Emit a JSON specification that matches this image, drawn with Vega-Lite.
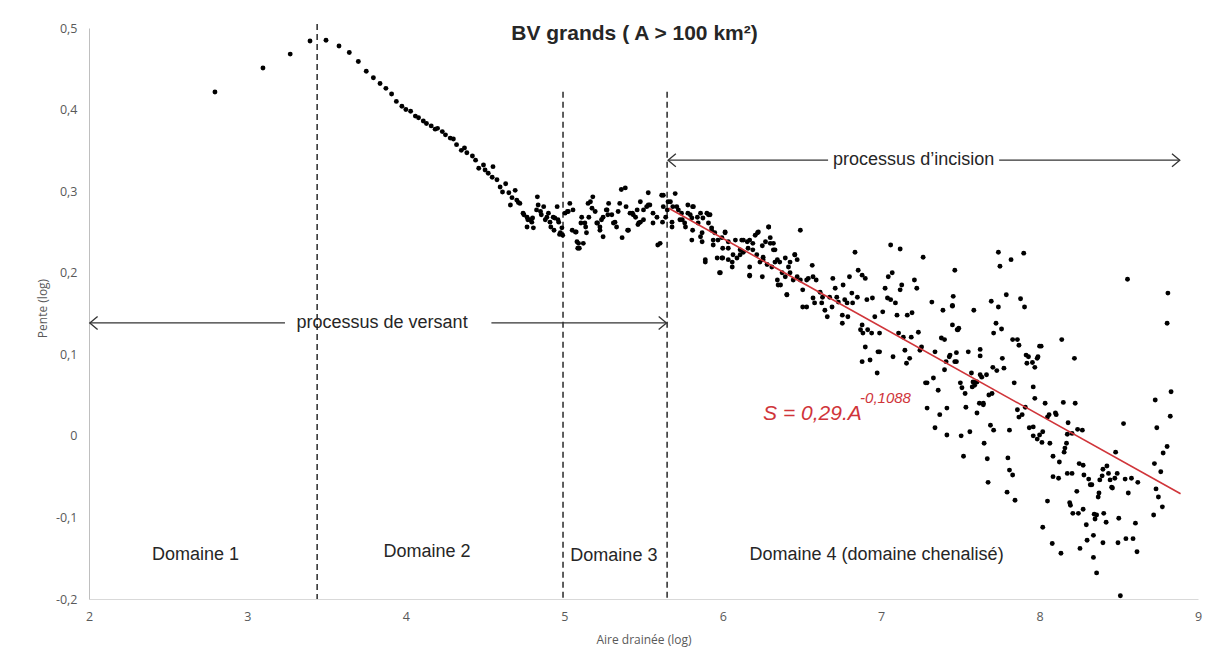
{
  "$schema": "https://vega.github.io/schema/vega-lite/v6.json",
  "autosize": {"type": "none"},
  "padding": {"left": 89, "top": 28, "right": 19, "bottom": 62},
  "width": 1109,
  "height": 571,
  "background": "white",
  "config": {"view": {"stroke": null}},
  "title": {"text": "BV grands ( A > 100 km²)", "font": "Liberation Sans", "fontSize": 21, "fontWeight": "bold", "color": "#262626", "anchor": "middle", "frame": "group", "offset": -22, "dx": -9},
  "datasets": {
    "pts": [
      {"a":2.795,"s":0.4215},{"a":3.098,"s":0.451},{"a":3.27,"s":0.468},{"a":3.395,"s":0.484},{"a":3.496,"s":0.485},{"a":3.578,"s":0.478},{"a":3.643,"s":0.470},{"a":3.70,"s":0.459},{"a":3.75,"s":0.447},{"a":3.795,"s":0.439},{"a":3.837,"s":0.432},{"a":3.874,"s":0.426},{"a":3.91,"s":0.419},{"a":3.94,"s":0.41},{"a":3.975,"s":0.404},{"a":4.0,"s":0.40},{"a":4.03,"s":0.398},{"a":4.06,"s":0.392},{"a":4.08,"s":0.39},{"a":4.11,"s":0.386},{"a":4.13,"s":0.383},{"a":4.16,"s":0.38},{"a":4.185,"s":0.376},{"a":4.20,"s":0.377},{"a":4.23,"s":0.373},{"a":4.25,"s":0.369},{"a":4.28,"s":0.365},{"a":4.30,"s":0.364},{"a":4.32,"s":0.357},{"a":4.35,"s":0.35},{"a":4.37,"s":0.353},{"a":4.385,"s":0.347},{"a":4.42,"s":0.343},{"a":4.44,"s":0.338},{"a":4.46,"s":0.328},{"a":4.49,"s":0.332},{"a":4.50,"s":0.326},{"a":4.52,"s":0.322},{"a":4.55,"s":0.33},{"a":4.545,"s":0.317},{"a":4.575,"s":0.314},{"a":4.595,"s":0.305},{"a":4.61,"s":0.299},{"a":4.63,"s":0.309},{"a":4.65,"s":0.298},{"a":4.67,"s":0.292},{"a":4.69,"s":0.301},{"a":4.70,"s":0.289},{"a":4.72,"s":0.285},{"a":4.74,"s":0.273},{"a":4.765,"s":0.268},{"a":4.785,"s":0.265},{"a":4.80,"s":0.267},{"a":4.83,"s":0.293},{"a":4.835,"s":0.283},{"a":4.85,"s":0.275},{"a":4.87,"s":0.281},{"a":4.89,"s":0.268},{"a":4.91,"s":0.262},{"a":4.93,"s":0.268},{"a":4.955,"s":0.281},{"a":4.96,"s":0.265},{"a":4.97,"s":0.247},{"a":4.985,"s":0.255},{"a":5.02,"s":0.275},{"a":5.035,"s":0.285},{"a":5.055,"s":0.277},{"a":5.07,"s":0.25},{"a":5.09,"s":0.236},{"a":5.095,"s":0.23},{"a":5.11,"s":0.268},{"a":5.13,"s":0.261},{"a":5.14,"s":0.249},{"a":5.15,"s":0.285},{"a":5.18,"s":0.293},{"a":5.195,"s":0.275},{"a":5.21,"s":0.261},{"a":5.225,"s":0.252},{"a":5.245,"s":0.268},{"a":5.27,"s":0.277},{"a":5.28,"s":0.285},{"a":5.30,"s":0.271},{"a":5.32,"s":0.262},{"a":5.34,"s":0.275},{"a":5.36,"s":0.302},{"a":5.385,"s":0.304},{"a":5.365,"s":0.243},{"a":5.39,"s":0.281},{"a":5.40,"s":0.252},{"a":5.43,"s":0.273},{"a":5.45,"s":0.268},{"a":5.47,"s":0.261},{"a":5.48,"s":0.287},{"a":5.50,"s":0.277},{"a":5.53,"s":0.298},{"a":5.54,"s":0.283},{"a":5.56,"s":0.273},{"a":5.585,"s":0.268},{"a":5.59,"s":0.234},{"a":5.615,"s":0.295},{"a":5.62,"s":0.262},{"a":5.67,"s":0.287},{"a":5.70,"s":0.297},
      {"a":4.66,"s":0.283},{"a":4.71,"s":0.286},{"a":4.745,"s":0.271},{"a":4.77,"s":0.265},{"a":4.795,"s":0.262},{"a":4.765,"s":0.256},{"a":4.805,"s":0.255},{"a":4.825,"s":0.277},{"a":4.855,"s":0.271},{"a":4.88,"s":0.265},{"a":4.90,"s":0.273},{"a":4.915,"s":0.256},{"a":4.935,"s":0.252},{"a":4.94,"s":0.267},{"a":4.965,"s":0.262},{"a":4.975,"s":0.249},{"a":4.99,"s":0.246},{"a":5.005,"s":0.273},{"a":5.025,"s":0.275},{"a":5.05,"s":0.252},{"a":5.075,"s":0.25},{"a":5.08,"s":0.238},{"a":5.085,"s":0.23},{"a":5.12,"s":0.236},{"a":5.105,"s":0.261},{"a":5.135,"s":0.256},{"a":5.155,"s":0.268},{"a":5.165,"s":0.287},{"a":5.175,"s":0.279},{"a":5.205,"s":0.261},{"a":5.225,"s":0.256},{"a":5.235,"s":0.265},{"a":5.245,"s":0.244},{"a":5.265,"s":0.277},{"a":5.275,"s":0.271},{"a":5.31,"s":0.261},{"a":5.33,"s":0.256},{"a":5.35,"s":0.285},{"a":5.405,"s":0.252},{"a":5.415,"s":0.273},{"a":5.435,"s":0.271},{"a":5.46,"s":0.277},{"a":5.465,"s":0.259},{"a":5.48,"s":0.262},{"a":5.50,"s":0.265},{"a":5.52,"s":0.281},{"a":5.53,"s":0.283},{"a":5.56,"s":0.261},{"a":5.605,"s":0.236},{"a":5.625,"s":0.281},{"a":5.65,"s":0.277},{"a":5.68,"s":0.256},{"a":5.71,"s":0.281},{"a":5.745,"s":0.265},{"a":5.765,"s":0.256},{"a":5.78,"s":0.273},{"a":5.805,"s":0.267},{"a":5.815,"s":0.281},{"a":5.845,"s":0.261},{"a":5.87,"s":0.249},{"a":5.89,"s":0.213},{"a":5.91,"s":0.271},{"a":5.93,"s":0.252},{"a":5.94,"s":0.24},{"a":5.985,"s":0.2},{"a":5.995,"s":0.218},{"a":6.015,"s":0.25},{"a":6.035,"s":0.23},{"a":6.06,"s":0.213},{"a":6.08,"s":0.24},{"a":6.11,"s":0.228},{"a":6.13,"s":0.24},{"a":6.17,"s":0.197},{"a":6.19,"s":0.236},{"a":6.22,"s":0.249},{"a":6.25,"s":0.195},{"a":6.255,"s":0.216},{"a":6.29,"s":0.256},{"a":6.30,"s":0.236},{"a":6.32,"s":0.228},{"a":6.33,"s":0.213},{"a":6.365,"s":0.185},{"a":6.405,"s":0.173},{"a":6.425,"s":0.213},{"a":6.455,"s":0.222},
      {"a":5.625,"s":0.295},{"a":5.655,"s":0.287},{"a":5.685,"s":0.281},{"a":5.72,"s":0.277},{"a":5.74,"s":0.273},{"a":5.64,"s":0.268},{"a":5.68,"s":0.262},{"a":5.73,"s":0.265},{"a":5.76,"s":0.261},{"a":5.78,"s":0.283},{"a":5.81,"s":0.281},{"a":5.795,"s":0.271},{"a":5.84,"s":0.268},{"a":5.86,"s":0.273},{"a":5.875,"s":0.267},{"a":5.90,"s":0.273},{"a":5.92,"s":0.271},{"a":5.91,"s":0.261},{"a":5.81,"s":0.252},{"a":5.805,"s":0.24},{"a":5.86,"s":0.244},{"a":5.87,"s":0.238},{"a":5.93,"s":0.255},{"a":5.95,"s":0.249},{"a":5.97,"s":0.24},{"a":5.94,"s":0.234},{"a":5.995,"s":0.243},{"a":6.015,"s":0.249},{"a":6.035,"s":0.238},{"a":6.00,"s":0.23},{"a":5.89,"s":0.216},{"a":5.965,"s":0.218},{"a":6.00,"s":0.218},{"a":5.98,"s":0.2},{"a":6.035,"s":0.216},{"a":6.065,"s":0.222},{"a":6.09,"s":0.218},{"a":6.06,"s":0.207},{"a":6.11,"s":0.222},{"a":6.12,"s":0.24},{"a":6.155,"s":0.238},{"a":6.17,"s":0.24},{"a":6.205,"s":0.246},{"a":6.225,"s":0.25},{"a":6.16,"s":0.23},{"a":6.19,"s":0.228},{"a":6.215,"s":0.222},{"a":6.13,"s":0.225},{"a":6.17,"s":0.207},{"a":6.17,"s":0.196},{"a":6.235,"s":0.213},{"a":6.255,"s":0.219},{"a":6.25,"s":0.233},{"a":6.27,"s":0.238},{"a":6.29,"s":0.256},{"a":6.30,"s":0.243},{"a":6.32,"s":0.236},{"a":6.28,"s":0.21},{"a":6.31,"s":0.207},{"a":6.33,"s":0.228},{"a":6.345,"s":0.216},{"a":6.36,"s":0.213},{"a":6.375,"s":0.2},{"a":6.395,"s":0.218},{"a":6.415,"s":0.207},{"a":6.455,"s":0.222},{"a":6.47,"s":0.216},{"a":6.395,"s":0.195},{"a":6.425,"s":0.2},{"a":6.445,"s":0.191},{"a":6.47,"s":0.195},{"a":6.49,"s":0.252},{"a":6.345,"s":0.191},{"a":6.35,"s":0.185},{"a":6.405,"s":0.173},{"a":6.49,"s":0.191},{"a":6.505,"s":0.179},{"a":6.53,"s":0.191},{"a":6.54,"s":0.193},{"a":6.565,"s":0.209},{"a":6.57,"s":0.195},{"a":6.59,"s":0.191},{"a":6.505,"s":0.158},{"a":6.53,"s":0.158},{"a":6.57,"s":0.169},{"a":6.58,"s":0.163},{"a":6.615,"s":0.176},{"a":6.63,"s":0.17},{"a":6.625,"s":0.163},{"a":6.645,"s":0.154},{"a":6.66,"s":0.146},{"a":6.675,"s":0.17},{"a":6.695,"s":0.193},{"a":6.71,"s":0.181},{"a":6.69,"s":0.158},{"a":6.72,"s":0.17},{"a":6.73,"s":0.164},{"a":6.755,"s":0.148},{"a":6.755,"s":0.138},{"a":6.76,"s":0.185},{"a":6.77,"s":0.167},{"a":6.785,"s":0.163},{"a":6.79,"s":0.146},{"a":6.80,"s":0.195},{"a":6.815,"s":0.175},{"a":6.82,"s":0.163},{"a":6.835,"s":0.225},{"a":6.85,"s":0.17},{"a":6.855,"s":0.203},{"a":6.88,"s":0.197},{"a":6.88,"s":0.136},{"a":6.87,"s":0.13},{"a":6.885,"s":0.126},{"a":6.90,"s":0.193},{"a":6.91,"s":0.167},{"a":6.90,"s":0.109},{"a":6.88,"s":0.091},{"a":6.915,"s":0.13},{"a":6.93,"s":0.093},{"a":6.94,"s":0.126},{"a":6.945,"s":0.169},{"a":6.96,"s":0.146},{"a":6.975,"s":0.077},{"a":6.98,"s":0.103},{"a":6.99,"s":0.103},{"a":6.99,"s":0.126},{"a":7.01,"s":0.152},{"a":7.025,"s":0.181},{"a":7.04,"s":0.169},{"a":7.045,"s":0.195},{"a":7.06,"s":0.234},{"a":7.06,"s":0.167},{"a":7.07,"s":0.2},{"a":7.075,"s":0.097},{"a":7.09,"s":0.163},{"a":7.10,"s":0.148},{"a":7.12,"s":0.229},{"a":7.11,"s":0.126},{"a":7.12,"s":0.179},{"a":7.13,"s":0.185},{"a":7.14,"s":0.121},{"a":7.15,"s":0.105},{"a":7.16,"s":0.089},{"a":7.165,"s":0.148},{"a":7.18,"s":0.095},{"a":7.19,"s":0.121},{"a":7.195,"s":0.151},{"a":7.21,"s":0.191},{"a":7.225,"s":0.181},{"a":7.235,"s":0.127},{"a":7.245,"s":0.105},{"a":7.255,"s":0.109},{"a":7.265,"s":0.219},{"a":7.28,"s":0.065},{"a":7.29,"s":0.065},{"a":7.29,"s":0.034},{"a":7.32,"s":0.164},{"a":7.33,"s":0.071},{"a":7.34,"s":0.103},{"a":7.34,"s":0.01},{"a":7.36,"s":0.056},{"a":7.37,"s":0.026},{"a":7.38,"s":0.12},{"a":7.39,"s":0.154},{"a":7.40,"s":0.081},{"a":7.415,"s":0.001},{"a":7.415,"s":0.034},{"a":7.435,"s":0.099},{"a":7.45,"s":0.16},{"a":7.455,"s":0.171},{"a":7.465,"s":0.203},{"a":7.475,"s":0.091},{"a":7.485,"s":0.13},
      {"a":7.74,"s":0.225},{"a":7.75,"s":0.208},{"a":7.82,"s":0.216},{"a":7.90,"s":0.224},{"a":7.45,"s":0.159},{"a":7.40,"s":0.118},{"a":7.585,"s":0.154},{"a":7.695,"s":0.165},{"a":7.74,"s":0.158},{"a":7.79,"s":0.173},{"a":7.88,"s":0.168},{"a":7.905,"s":0.158},{"a":7.45,"s":0.136},{"a":7.49,"s":0.132},{"a":7.48,"s":0.13},{"a":7.725,"s":0.138},{"a":7.76,"s":0.131},{"a":7.71,"s":0.126},{"a":7.83,"s":0.118},{"a":7.86,"s":0.118},{"a":7.87,"s":0.111},{"a":8.00,"s":0.11},{"a":8.14,"s":0.118},{"a":7.43,"s":0.097},{"a":7.475,"s":0.102},{"a":7.41,"s":0.091},{"a":7.465,"s":0.091},{"a":7.55,"s":0.103},{"a":7.625,"s":0.106},{"a":7.625,"s":0.098},{"a":7.705,"s":0.084},{"a":7.73,"s":0.08},{"a":7.775,"s":0.083},{"a":7.765,"s":0.095},{"a":7.915,"s":0.099},{"a":7.93,"s":0.097},{"a":7.92,"s":0.089},{"a":7.985,"s":0.095},{"a":7.97,"s":0.084},{"a":7.955,"s":0.09},{"a":8.01,"s":0.11},{"a":8.22,"s":0.095},{"a":7.57,"s":0.077},{"a":7.50,"s":0.065},{"a":7.51,"s":0.059},{"a":7.53,"s":0.052},{"a":7.575,"s":0.06},{"a":7.58,"s":0.066},{"a":7.59,"s":0.062},{"a":7.605,"s":0.066},{"a":7.625,"s":0.075},{"a":7.635,"s":0.072},{"a":7.645,"s":0.04},{"a":7.665,"s":0.075},{"a":7.68,"s":0.05},{"a":7.70,"s":0.052},{"a":7.535,"s":0.035},{"a":7.605,"s":0.028},{"a":7.62,"s":0.04},{"a":7.645,"s":0.038},{"a":7.56,"s":0.005},{"a":7.505,"s":0.0},{"a":7.52,"s":-0.025},{"a":7.65,"s":-0.009},{"a":7.69,"s":0.013},{"a":7.71,"s":0.007},{"a":7.67,"s":-0.028},{"a":7.675,"s":-0.057},{"a":7.80,"s":-0.027},{"a":7.81,"s":-0.042},{"a":7.83,"s":-0.048},{"a":7.795,"s":-0.069},{"a":7.845,"s":-0.079},{"a":7.81,"s":0.007},{"a":7.84,"s":0.065},{"a":7.86,"s":0.032},{"a":7.87,"s":0.023},{"a":7.89,"s":0.026},{"a":7.91,"s":0.035},{"a":7.935,"s":0.01},{"a":7.96,"s":0.011},{"a":7.96,"s":0.0},{"a":7.985,"s":-0.004},{"a":8.00,"s":0.001},{"a":8.015,"s":-0.008},{"a":8.02,"s":0.005},{"a":7.97,"s":0.046},{"a":7.96,"s":0.06},{"a":7.99,"s":0.097},{"a":8.035,"s":0.04},{"a":8.05,"s":0.023},{"a":8.06,"s":0.026},{"a":8.065,"s":-0.009},{"a":8.085,"s":-0.025},{"a":8.10,"s":0.028},{"a":8.105,"s":0.026},{"a":8.125,"s":-0.032},{"a":8.12,"s":-0.052},{"a":8.085,"s":-0.05},{"a":8.05,"s":-0.08},{"a":8.02,"s":-0.112},{"a":8.08,"s":-0.132},{"a":8.135,"s":-0.144},{"a":8.15,"s":0.041},{"a":8.155,"s":-0.02},{"a":8.16,"s":-0.015},{"a":8.17,"s":-0.009},{"a":8.175,"s":0.002},{"a":8.18,"s":0.016},{"a":8.205,"s":0.003},{"a":8.225,"s":0.04},{"a":8.24,"s":0.008},{"a":8.27,"s":0.007},{"a":8.175,"s":-0.046},{"a":8.205,"s":-0.046},{"a":8.19,"s":-0.082},{"a":8.195,"s":-0.085},{"a":8.21,"s":-0.095},{"a":8.245,"s":-0.095},{"a":8.235,"s":-0.068},{"a":8.25,"s":-0.034},{"a":8.275,"s":-0.036},{"a":8.28,"s":-0.048},{"a":8.275,"s":-0.09},{"a":8.295,"s":-0.109},{"a":8.30,"s":-0.128},{"a":8.255,"s":-0.138},{"a":8.31,"s":-0.053},{"a":8.32,"s":-0.06},{"a":8.33,"s":-0.06},{"a":8.345,"s":-0.096},{"a":8.34,"s":-0.122},{"a":8.34,"s":-0.149},{"a":8.36,"s":-0.168},{"a":8.35,"s":-0.102},{"a":8.36,"s":-0.097},{"a":8.37,"s":-0.075},{"a":8.375,"s":-0.07},{"a":8.38,"s":-0.054},{"a":8.395,"s":-0.049},{"a":8.40,"s":-0.131},{"a":8.40,"s":-0.041},{"a":8.405,"s":-0.095},{"a":8.42,"s":-0.106},{"a":8.425,"s":-0.037},{"a":8.435,"s":-0.046},{"a":8.445,"s":-0.054},{"a":8.455,"s":-0.063},{"a":8.46,"s":-0.064},{"a":8.475,"s":-0.052},{"a":8.48,"s":-0.02},{"a":8.49,"s":-0.046},{"a":8.495,"s":-0.131},{"a":8.50,"s":-0.101},{"a":8.51,"s":-0.196},{"a":8.53,"s":0.015},{"a":8.54,"s":-0.053},{"a":8.545,"s":-0.126},{"a":8.56,"s":-0.07},{"a":8.58,"s":-0.052},{"a":8.59,"s":-0.126},{"a":8.605,"s":-0.107},{"a":8.615,"s":-0.142},{"a":8.62,"s":-0.057},{"a":8.555,"s":0.192},{"a":8.72,"s":-0.097},{"a":8.725,"s":-0.034},{"a":8.73,"s":0.044},{"a":8.735,"s":-0.065},{"a":8.74,"s":0.01},{"a":8.75,"s":-0.075},{"a":8.765,"s":-0.044},{"a":8.775,"s":-0.087},{"a":8.78,"s":-0.021},{"a":8.805,"s":0.138},{"a":8.81,"s":0.175},{"a":8.805,"s":-0.013},{"a":8.825,"s":0.024},{"a":8.83,"s":0.054}
    ],
    "vlines": [{"a":3.44,"s":0.505,"s2":-0.2},{"a":4.992,"s":0.422,"s2":-0.2},{"a":5.649,"s":0.422,"s2":-0.2}],
    "arrows": [{"a":2.005,"a2":3.237,"s":0.1385},{"a":4.54,"a2":5.645,"s":0.1385},{"a":5.655,"a2":6.665,"s":0.338},{"a":7.745,"a2":8.885,"s":0.338}],
    "heads": [{"a":2.005,"s":0.1385,"dir":"L"},{"a":5.645,"s":0.1385,"dir":"R"},{"a":5.655,"s":0.338,"dir":"L"},{"a":8.885,"s":0.338,"dir":"R"}],
    "trend": [{"a":5.66,"s":0.279},{"a":8.89,"s":-0.071}],
    "labels": [{"a":2.672,"s":-0.146,"t":"Domaine 1"},{"a":4.134,"s":-0.142,"t":"Domaine 2"},{"a":5.313,"s":-0.147,"t":"Domaine 3"},{"a":6.971,"s":-0.146,"t":"Domaine 4 (domaine chenalisé)"},{"a":3.85,"s":0.1385,"t":"processus de versant"},{"a":7.205,"s":0.338,"t":"processus d’incision"}],
    "eq": [{"a":6.255,"s":0.0268,"t":"S = 0,29.A"}],
    "eqsup": [{"a":6.867,"s":0.0464,"t":"-0,1088"}]
  },
  "layer": [
    {
      "data": {"name": "vlines"},
      "mark": {"type": "rule", "color": "#1a1a1a", "strokeWidth": 1.4, "strokeDash": [6, 4]},
      "encoding": {
        "x": {"field": "a", "type": "quantitative", "scale": {"domain": [2, 9], "nice": false, "zero": false},
          "axis": {"title": "Aire drainée (log)", "values": [2,3,4,5,6,7,8,9], "labelExpr": "toString(datum.value)", "grid": false, "ticks": false, "domainColor": "#d9d9d9", "labelColor": "#595959", "labelFont": "Open Sans", "labelFontSize": 12.5, "labelPadding": 11, "labelFlush": false, "titleFont": "Open Sans", "titleFontSize": 12, "titleColor": "#595959", "titleFontWeight": "normal", "titleY": 40, "titleBaseline": "middle"}},
        "y": {"field": "s", "type": "quantitative", "scale": {"domain": [-0.2, 0.5], "nice": false, "zero": false},
          "axis": {"title": "Pente (log)", "values": [-0.2,-0.1,0,0.1,0.2,0.3,0.4,0.5], "labelExpr": "replace(toString(datum.value), '.', ',')", "grid": false, "ticks": false, "domainColor": "#bfbfbf", "labelColor": "#595959", "labelFont": "Open Sans", "labelFontSize": 12.5, "labelPadding": 12, "titleFont": "Open Sans", "titleFontSize": 12, "titleColor": "#595959", "titleFontWeight": "normal", "titleX": -47, "titleY": 280, "titleBaseline": "middle", "titleAlign": "center"}},
        "y2": {"field": "s2"}
      }
    },
    {
      "data": {"name": "pts"},
      "mark": {"type": "point", "filled": true, "color": "#000000", "opacity": 1, "size": 24},
      "encoding": {
        "x": {"field": "a", "type": "quantitative", "scale": {"domain": [2, 9], "nice": false, "zero": false}},
        "y": {"field": "s", "type": "quantitative", "scale": {"domain": [-0.2, 0.5], "nice": false, "zero": false}}
      }
    },
    {
      "data": {"name": "trend"},
      "mark": {"type": "line", "color": "#d0353a", "strokeWidth": 1.6},
      "encoding": {
        "x": {"field": "a", "type": "quantitative", "scale": {"domain": [2, 9], "nice": false, "zero": false}},
        "y": {"field": "s", "type": "quantitative", "scale": {"domain": [-0.2, 0.5], "nice": false, "zero": false}}
      }
    },
    {
      "data": {"name": "arrows"},
      "mark": {"type": "rule", "color": "#333333", "strokeWidth": 1.3},
      "encoding": {
        "x": {"field": "a", "type": "quantitative", "scale": {"domain": [2, 9], "nice": false, "zero": false}},
        "x2": {"field": "a2"},
        "y": {"field": "s", "type": "quantitative", "scale": {"domain": [-0.2, 0.5], "nice": false, "zero": false}}
      }
    },
    {
      "data": {"name": "heads"},
      "mark": {"type": "point", "filled": false, "color": "#333333", "strokeWidth": 1.3, "opacity": 1, "size": 169},
      "encoding": {
        "x": {"field": "a", "type": "quantitative", "scale": {"domain": [2, 9], "nice": false, "zero": false}},
        "y": {"field": "s", "type": "quantitative", "scale": {"domain": [-0.2, 0.5], "nice": false, "zero": false}},
        "shape": {"field": "dir", "type": "nominal", "scale": {"domain": ["L", "R"], "range": ["M1.2,-1L0,0L1.2,1", "M-1.2,-1L0,0L-1.2,1"]}, "legend": null}
      }
    },
    {
      "data": {"name": "labels"},
      "mark": {"type": "text", "font": "Liberation Sans", "fontSize": 18, "color": "#262626", "align": "center", "baseline": "middle"},
      "encoding": {
        "x": {"field": "a", "type": "quantitative", "scale": {"domain": [2, 9], "nice": false, "zero": false}},
        "y": {"field": "s", "type": "quantitative", "scale": {"domain": [-0.2, 0.5], "nice": false, "zero": false}},
        "text": {"field": "t"}
      }
    },
    {
      "data": {"name": "eq"},
      "mark": {"type": "text", "font": "Liberation Sans", "fontSize": 21, "fontStyle": "italic", "color": "#d0353a", "align": "left", "baseline": "middle"},
      "encoding": {
        "x": {"field": "a", "type": "quantitative", "scale": {"domain": [2, 9], "nice": false, "zero": false}},
        "y": {"field": "s", "type": "quantitative", "scale": {"domain": [-0.2, 0.5], "nice": false, "zero": false}},
        "text": {"field": "t"}
      }
    },
    {
      "data": {"name": "eqsup"},
      "mark": {"type": "text", "font": "Liberation Sans", "fontSize": 15, "fontStyle": "italic", "color": "#d0353a", "align": "left", "baseline": "middle"},
      "encoding": {
        "x": {"field": "a", "type": "quantitative", "scale": {"domain": [2, 9], "nice": false, "zero": false}},
        "y": {"field": "s", "type": "quantitative", "scale": {"domain": [-0.2, 0.5], "nice": false, "zero": false}},
        "text": {"field": "t"}
      }
    }
  ]
}
